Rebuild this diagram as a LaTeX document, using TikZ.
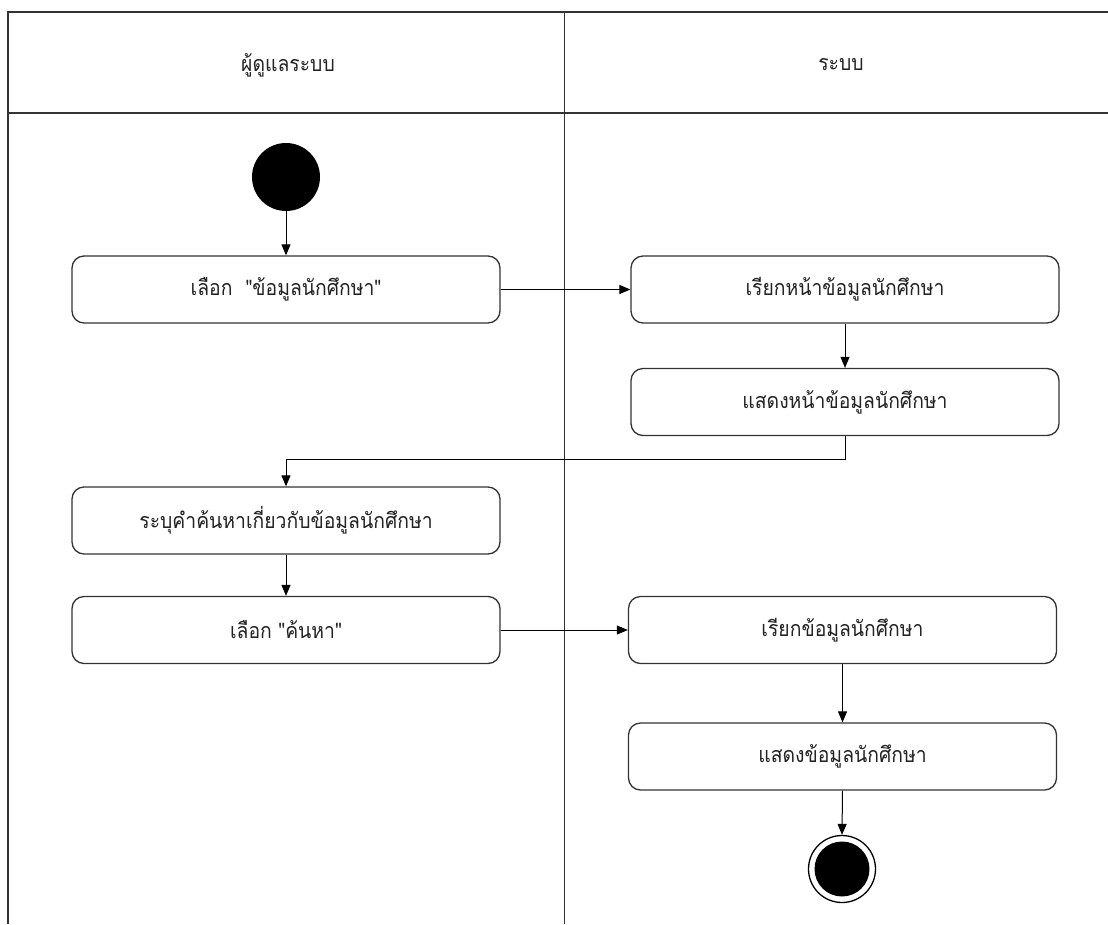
\documentclass[tikz,border=0pt]{standalone}
\usepackage{fontspec}
\newfontfamily\thaifont[Script=Thai,FakeStretch=0.9]{Loma}
\usetikzlibrary{arrows.meta}
\definecolor{ln}{HTML}{333333}
\definecolor{tx}{HTML}{222222}
\begin{document}
\begin{tikzpicture}[x=1pt,y=-1pt,
  act/.style={draw=ln,line width=1.3pt,rounded corners=12pt,minimum width=428pt,minimum height=67pt,inner sep=0pt,text=tx,font=\thaifont\fontsize{21.5}{25}\selectfont},
  lanehead/.style={text=tx,font=\thaifont\fontsize{21.5}{25}\selectfont},
  flow/.style={draw=black,line width=1pt,-{Triangle[length=11pt,width=9pt]}},
  frame/.style={draw=ln,line width=1.8pt},
  divider/.style={draw=ln,line width=1pt}]
\useasboundingbox (0,0) rectangle (1108,924);
\fill[white] (0,0) rectangle (1108,924);
% swimlane frame
\draw[frame] (1108,12) -- (8,12) -- (8,924);
\draw[frame] (8,113) -- (1108,113);
\draw[divider] (564,12) -- (564,924);
\node[lanehead] (h1) at (288,65) {ผู้ดูแลระบบ};
\node[lanehead] (h2) at (841,65) {ระบบ};
% nodes
\node[circle,fill=black,minimum size=68pt,inner sep=0pt] (start) at (286,177) {};
\node[act] (b1) at (286,289.5) {เลือก \ "ข้อมูลนักศึกษา"};
\node[act] (b2) at (845,289.5) {เรียกหน้าข้อมูลนักศึกษา};
\node[act] (b3) at (845,402) {แสดงหน้าข้อมูลนักศึกษา};
\node[act] (b4) at (286,520.5) {ระบุคำค้นหาเกี่ยวกับข้อมูลนักศึกษา};
\node[act] (b5) at (286,630) {เลือก "ค้นหา"};
\node[act] (b6) at (842.5,630) {เรียกข้อมูลนักศึกษา};
\node[act] (b7) at (842.5,756.5) {แสดงข้อมูลนักศึกษา};
\node[circle,draw=black,line width=1.3pt,minimum size=67pt,inner sep=0pt] (endo) at (842,869) {};
\node[circle,fill=black,minimum size=55pt,inner sep=0pt] (endi) at (842,869) {};
\coordinate (k) at (845,459);
% connectors
\draw[flow] (start) -- (b1);
\draw[flow] (b1) -- (b2);
\draw[flow] (b2) -- (b3);
\draw[flow] (b3.south) -- (k) -| (b4.north);
\draw[flow] (b4) -- (b5);
\draw[flow] (b5) -- (b6);
\draw[flow] (b6) -- (b7);
\draw[flow] (b7.south) -- (endo.north);
\end{tikzpicture}
\end{document}
